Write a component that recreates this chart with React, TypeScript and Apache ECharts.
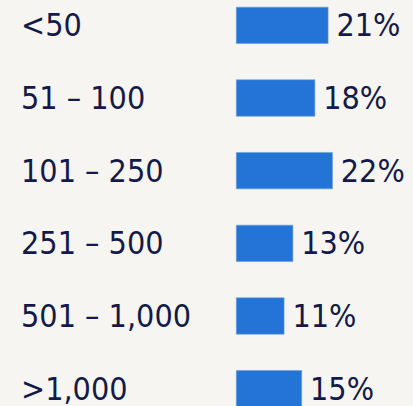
import React, { useEffect, useRef } from "react";
import * as echarts from "echarts";

const categories = ["<50", "51 – 100", "101 – 250", "251 – 500", "501 – 1,000", ">1,000"];
const values = [21, 18, 22, 13, 11, 15];

const FONT = "'DejaVu Sans Condensed', 'DejaVu Sans', sans-serif";
const TEXT = "#141a48";

export default function App() {
  const ref = useRef<HTMLDivElement>(null);
  useEffect(() => {
    if (!ref.current) return;
    const chart = echarts.init(ref.current, null, { renderer: "svg" });
    chart.setOption({
      animation: false,
      backgroundColor: "#f6f5f1",
      grid: { left: 236, top: 0, width: 176, height: 436, containLabel: false, outerBoundsMode: "none" },
      xAxis: { type: "value", min: 0, max: 40, show: false },
      yAxis: {
        type: "category",
        data: categories,
        inverse: true,
        axisLine: { show: false },
        axisTick: { show: false },
        splitLine: { show: false },
        axisLabel: {
          align: "left",
          margin: 215,
          fontSize: 32,
          fontFamily: FONT,
          color: TEXT,
        },
      },
      series: [
        {
          type: "bar",
          data: values,
          barWidth: 37,
          itemStyle: { color: "#2474d7", borderColor: "#6aa0e0", borderWidth: 0.6 },
          label: {
            show: true,
            position: "right",
            distance: 8,
            formatter: "{c}%",
            fontSize: 32,
            fontFamily: FONT,
            color: TEXT,
          },
        },
      ],
    });
    return () => chart.dispose();
  }, []);
  return (
    <div style={{ position: "fixed", left: 0, top: 0, width: 413, height: 406, overflow: "hidden", background: "#f6f5f1" }}>
      <div
        ref={ref}
        style={{ position: "absolute", left: 0, top: -11, width: 413, height: 447 }}
      />
    </div>
  );
}
